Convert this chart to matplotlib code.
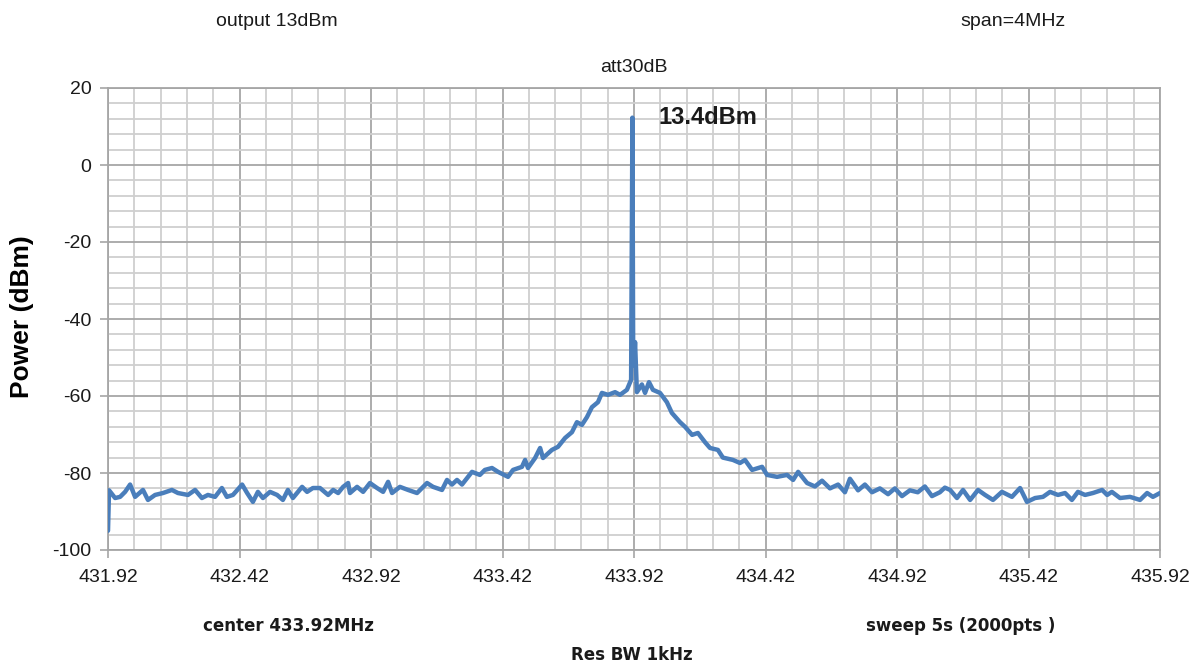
"""
plot.py - spectrum analyser capture, 433.92 MHz carrier, span 4 MHz.
Trace values read off the reference screenshot.
"""
import numpy as np
import matplotlib
matplotlib.use('Agg')
import matplotlib.pyplot as plt
from matplotlib.ticker import MultipleLocator, FixedLocator

# frequency (MHz) and measured power (dBm)
freq_mhz = [
    431.920, 431.924, 431.947, 431.966, 431.985, 432.004, 432.023, 432.053,
    432.072, 432.099, 432.129, 432.163, 432.186, 432.224, 432.251, 432.277,
    432.300, 432.327, 432.353, 432.372, 432.395, 432.430, 432.449, 432.471,
    432.490, 432.509, 432.536, 432.563, 432.585, 432.604, 432.623, 432.658,
    432.677, 432.699, 432.726, 432.757, 432.776, 432.795, 432.814, 432.833,
    432.840, 432.867, 432.890, 432.916, 432.943, 432.966, 432.985, 433.000,
    433.030, 433.061, 433.095, 433.133, 433.156, 433.190, 433.209, 433.228,
    433.247, 433.266, 433.304, 433.334, 433.353, 433.380, 433.403, 433.441,
    433.460, 433.494, 433.506, 433.517, 433.544, 433.563, 433.574, 433.608,
    433.631, 433.658, 433.684, 433.703, 433.722, 433.741, 433.760, 433.783,
    433.798, 433.821, 433.848, 433.867, 433.893, 433.909, 433.914, 433.917,
    433.921, 433.924, 433.931, 433.950, 433.962, 433.977, 433.992, 434.019,
    434.045, 434.064, 434.095, 434.114, 434.141, 434.163, 434.190, 434.209,
    434.239, 434.258, 434.296, 434.323, 434.342, 434.369, 434.407, 434.426,
    434.464, 434.502, 434.525, 434.544, 434.578, 434.608, 434.635, 434.665,
    434.696, 434.722, 434.741, 434.772, 434.798, 434.825, 434.855, 434.886,
    434.912, 434.939, 434.969, 434.999, 435.026, 435.053, 435.083, 435.102,
    435.122, 435.148, 435.171, 435.198, 435.228, 435.255, 435.285, 435.319,
    435.357, 435.388, 435.414, 435.445, 435.475, 435.502, 435.532, 435.559,
    435.585, 435.608, 435.635, 435.665, 435.700, 435.719, 435.737, 435.768,
    435.806, 435.844, 435.871, 435.893, 435.920,
]
power_dbm = [
    -95.0, -84.5, -86.5, -86.2, -84.9, -83.0, -86.2, -84.4,
    -87.0, -85.7, -85.2, -84.4, -85.2, -85.7, -84.4, -86.5,
    -85.7, -86.2, -83.9, -86.2, -85.7, -83.0, -85.2, -87.5,
    -84.9, -86.5, -84.9, -85.7, -87.0, -84.4, -86.5, -83.6,
    -84.9, -83.9, -83.9, -85.7, -84.4, -85.2, -83.6, -82.6,
    -85.2, -83.6, -84.9, -82.6, -83.9, -84.9, -82.3, -85.2,
    -83.6, -84.4, -85.2, -82.6, -83.6, -84.4, -81.8, -83.0,
    -81.8, -83.0, -79.7, -80.5, -79.2, -78.7, -79.7, -81.0,
    -79.2, -78.4, -76.6, -78.7, -76.1, -73.5, -76.1, -74.0,
    -73.2, -70.9, -69.4, -66.8, -67.5, -65.5, -62.9, -61.6,
    -59.2, -59.7, -59.0, -59.7, -58.4, -55.8, 12.3, -52.0,
    -50.0, -46.0, -59.0, -57.0, -59.2, -56.4, -58.4, -59.2,
    -61.6, -64.4, -66.8, -68.0, -70.1, -69.6, -72.0, -73.5,
    -74.0, -76.0, -76.6, -77.4, -76.6, -79.2, -78.4, -80.5,
    -81.0, -80.5, -81.8, -79.7, -82.6, -83.5, -82.0, -84.0,
    -83.0, -85.0, -81.5, -84.5, -83.0, -85.0, -84.0, -85.5,
    -84.0, -86.0, -84.5, -85.0, -83.5, -86.0, -85.0, -83.8,
    -84.4, -86.5, -84.4, -87.0, -84.4, -85.7, -87.0, -84.9,
    -86.2, -83.9, -87.5, -86.5, -86.2, -84.9, -85.7, -85.2,
    -87.0, -84.9, -85.7, -85.2, -84.4, -85.7, -84.9, -86.5,
    -86.2, -87.0, -85.2, -86.2, -85.2,
]

x_ticks = [431.92, 432.42, 432.92, 433.42, 433.92, 434.42, 434.92, 435.42, 435.92]
x_tick_labels = ['431.92', '432.42', '432.92', '433.42', '433.92',
                 '434.42', '434.92', '435.42', '435.92']
y_ticks = [-100, -80, -60, -40, -20, 0, 20]

LINE = '#4a7ebb'
MAJOR_GRID = '#a6a6a6'
MINOR_GRID = '#cfcfcf'
TXT = '#1a1a1a'

plt.rcParams['font.family'] = ['Liberation Sans', 'DejaVu Sans']
plt.rcParams['axes.unicode_minus'] = False

fig = plt.figure(figsize=(11.95, 6.63), dpi=100)
ax = fig.add_axes([108 / 1195, 113 / 663, 1052 / 1195, 462 / 663])

ax.plot(freq_mhz, power_dbm, color=LINE, lw=3.2, solid_joinstyle='round',
        solid_capstyle='round', zorder=3)

ax.set_xlim(x_ticks[0], x_ticks[-1])
ax.set_ylim(y_ticks[0], y_ticks[-1])
ax.xaxis.set_major_locator(FixedLocator(x_ticks))
ax.set_xticklabels(x_tick_labels)
ax.xaxis.set_minor_locator(FixedLocator(
    [x_ticks[0] + 0.1 * i for i in range(41)]))
ax.yaxis.set_major_locator(FixedLocator(y_ticks))
ax.yaxis.set_minor_locator(MultipleLocator(4))

ax.grid(True, which='minor', color=MINOR_GRID, lw=1.3, zorder=0)
ax.grid(True, which='major', color=MAJOR_GRID, lw=1.3, zorder=1)
ax.set_axisbelow(True)
for s in ax.spines.values():
    s.set_color(MAJOR_GRID)
    s.set_linewidth(1.3)

ax.tick_params(which='major', direction='out', length=6, width=1.2,
               color=MAJOR_GRID, labelsize=14, labelcolor=TXT, pad=8)
ax.tick_params(which='minor', length=0)
ax.tick_params(axis='y', pad=6)

# annotations around the plot, in figure pixel coords
def fig_text(px, py, s, **kw):
    fig.text(px / 1195, 1 - py / 663, s, **kw)

fig_text(22, 317, 'Power (dBm)', ha='center', va='center', rotation=90,
         fontsize=19, fontweight='bold', color='black')
fig_text(277, 22, 'output 13dBm', ha='center', va='center', fontsize=14, color=TXT)
fig_text(1013, 22, 'span=4MHz', ha='center', va='center', fontsize=14, color=TXT)
fig_text(634, 67, 'att30dB', ha='center', va='center', fontsize=14, color=TXT)
fig_text(659, 117, '13.4dBm', ha='left', va='center', fontsize=17,
         fontweight='bold', color=TXT)
fig_text(203, 626, 'center 433.92MHz', ha='left', va='center', fontsize=12,
         fontweight='bold', color=TXT, family='DejaVu Sans')
fig_text(866, 626, 'sweep 5s (2000pts )', ha='left', va='center', fontsize=12,
         fontweight='bold', color=TXT, family='DejaVu Sans')
fig_text(632, 646, 'Res BW 1kHz', ha='center', va='top', fontsize=12,
         fontweight='bold', color=TXT, family='DejaVu Sans')

fig.savefig('out.png', dpi=100, facecolor='white')
